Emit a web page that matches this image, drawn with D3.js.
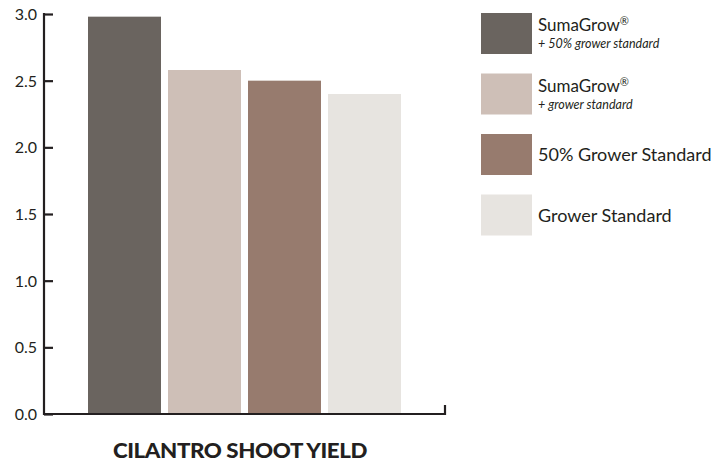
<!DOCTYPE html>
<html><head><meta charset="utf-8">
<script src="https://cdn.jsdelivr.net/npm/d3@7"></script>
<style>body{margin:0;background:#fff}svg{display:block}</style>
</head><body>
<svg id="c" width="720" height="466"></svg>
<script>
const categories = ["SumaGrow + 50% grower standard","SumaGrow + grower standard","50% Grower Standard","Grower Standard"];
const values = [2.98, 2.58, 2.50, 2.40];
const colors = ["#6a645f","#cebfb7","#977b6e","#e7e4e0"];
const legendMain = ["SumaGrow®","SumaGrow®","50% Grower Standard","Grower Standard"];
const legendSub = ["+ 50% grower standard","+ grower standard","",""];
const yTicks = [0,0.5,1.0,1.5,2.0,2.5,3.0];
const title = "CILANTRO SHOOT YIELD";

const svg = d3.select("#c");
const ink = "#231f20";
const y = d3.scaleLinear().domain([0,3]).range([414,14]);
const x = d3.scaleBand().domain(categories).range([84.5,404.5]).paddingInner(0.0875).paddingOuter(0.04375);

svg.selectAll("rect.bar").data(values).enter().append("rect")
  .attr("class","bar")
  .attr("x",(d,i)=>x(categories[i]))
  .attr("width",x.bandwidth())
  .attr("y",d=>y(d))
  .attr("height",d=>y(0)-y(d))
  .attr("fill",(d,i)=>colors[i]);

// y axis
const yAxis = d3.axisRight(y).tickValues(yTicks).tickSize(9).tickFormat(d3.format(".1f"));
const ga = svg.append("g").attr("transform","translate(44,0)").call(yAxis);
ga.select(".domain").remove();
ga.selectAll(".tick line").attr("stroke",ink).attr("stroke-width",2.2);
ga.selectAll(".tick text").attr("x",-7).attr("text-anchor","end").attr("dy","0.35em")
  .attr("fill",ink).style("font-family","Lato, 'Open Sans', sans-serif").style("font-size","16px");
svg.append("line").attr("x1",44).attr("x2",44).attr("y1",y(3)-1).attr("y2",y(0)+1)
  .attr("stroke",ink).attr("stroke-width",2.2);
// x axis baseline with right end tick
svg.append("path").attr("d",`M44,${y(0)}H445V${y(0)-9}`).attr("fill","none")
  .attr("stroke",ink).attr("stroke-width",2.2);

// title
svg.append("text").attr("x",240).attr("y",458).attr("text-anchor","middle")
  .attr("fill",ink).style("font-family","Lato, sans-serif").style("font-weight","900")
  .style("font-size","21px").style("letter-spacing","-0.4px")
  .attr("textLength",254).attr("lengthAdjust","spacingAndGlyphs").text(title);

// legend
const lg = svg.append("g");
const item = lg.selectAll("g").data(categories).enter().append("g")
  .attr("transform",(d,i)=>`translate(481,${13+i*60.5})`);
item.append("rect").attr("width",51).attr("height",41).attr("fill",(d,i)=>colors[i]);
item.each(function(d,i){
  const g = d3.select(this);
  if (legendSub[i]) {
    const t = g.append("text").attr("x",57).attr("y",18).attr("fill",ink)
      .style("font-family","Lato, sans-serif").style("font-size","17px");
    t.append("tspan").text("SumaGrow");
    t.append("tspan").text("®").style("font-size","11px").attr("dy","-6");
    g.append("text").attr("x",57).attr("y",35).attr("fill",ink)
      .style("font-family","Lato, sans-serif").style("font-style","italic").style("font-size","12.5px")
      .text(legendSub[i]);
  } else {
    g.append("text").attr("x",57).attr("y",27).attr("fill",ink)
      .style("font-family","Lato, sans-serif").style("font-size","18px").text(legendMain[i]);
  }
});
</script>
</body></html>
